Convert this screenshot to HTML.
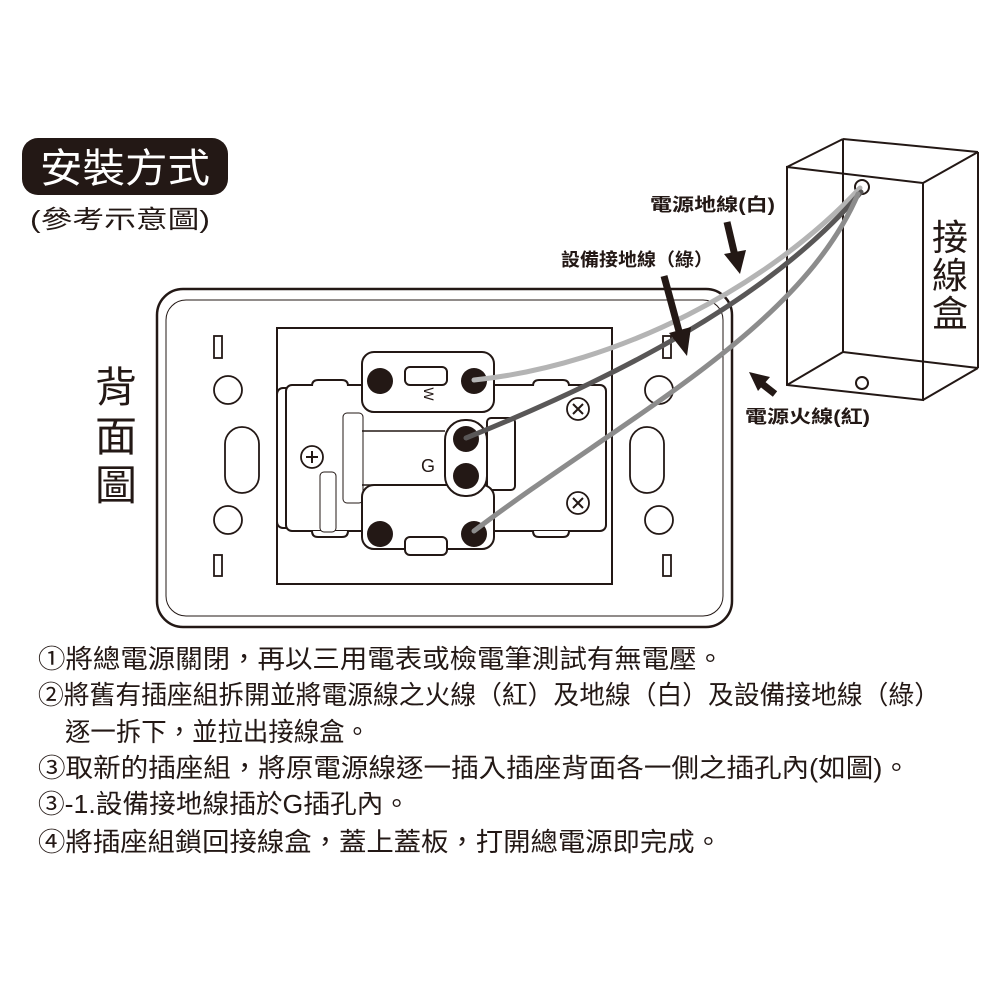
<!DOCTYPE html>
<html><head><meta charset="utf-8"><style>
html,body{margin:0;padding:0;background:#fff;}
svg{display:block}
text{font-family:"Liberation Sans","Noto Sans CJK TC",sans-serif;}
</style></head><body>
<svg width="1000" height="1000" viewBox="0 0 1000 1000" xmlns="http://www.w3.org/2000/svg">
<rect width="1000" height="1000" fill="#fff"/>
<rect x="22" y="138" width="206" height="57" rx="16" fill="#231815"/>
<text x="125" y="182" font-size="40" fill="#fff" text-anchor="middle" textLength="170" lengthAdjust="spacingAndGlyphs">安裝方式</text>
<text x="30" y="228" font-size="25" fill="#231815" textLength="180" lengthAdjust="spacingAndGlyphs">(參考示意圖)</text>

<g font-size="42" fill="#231815" text-anchor="middle">
<text x="116" y="402">背</text><text x="116" y="451">面</text><text x="116" y="500">圖</text>
</g>

<g fill="none" stroke="#231815" stroke-width="2">
<line x1="843" y1="139" x2="978" y2="152"/>
<line x1="843" y1="139" x2="843" y2="352"/>
<line x1="843" y1="352" x2="978" y2="368"/>
<line x1="787" y1="167" x2="843" y2="139"/>
<line x1="923" y1="183" x2="978" y2="152"/>
<line x1="978" y1="152" x2="978" y2="368"/>
<line x1="787" y1="385" x2="843" y2="352"/>
<line x1="923" y1="400" x2="978" y2="368"/>
<polygon points="787,167 923,183 923,400 787,385"/>
<circle cx="862" cy="187" r="7"/>
<circle cx="862" cy="383" r="6"/>
</g>
<g font-size="36" fill="#231815" text-anchor="middle">
<text x="950" y="250">接</text><text x="950" y="288">線</text><text x="950" y="326">盒</text>
</g>

<g fill="none" stroke="#231815">
<rect x="157" y="289" width="575" height="338" rx="26" stroke-width="2.5"/>
<rect x="166" y="300" width="557" height="316" rx="20" stroke-width="1"/>
<rect x="277" y="328" width="335" height="256" stroke-width="2"/>
<rect x="214" y="336" width="8" height="22" stroke-width="1.8"/>
<rect x="214" y="555" width="8" height="21" stroke-width="1.8"/>
<circle cx="228" cy="390" r="14" stroke-width="1.8"/>
<circle cx="228" cy="520" r="14" stroke-width="1.8"/>
<rect x="225" y="427" width="34" height="66" rx="17" stroke-width="1.8"/>
<rect x="663" y="336" width="8" height="22" stroke-width="1.8"/>
<rect x="663" y="555" width="8" height="21" stroke-width="1.8"/>
<circle cx="659" cy="390" r="14" stroke-width="1.8"/>
<circle cx="659" cy="520" r="14" stroke-width="1.8"/>
<rect x="630" y="427" width="34" height="66" rx="17" stroke-width="1.8"/>
</g>

<g fill="#fff" stroke="#231815" stroke-width="2">
<rect x="277" y="388" width="40" height="140" rx="6"/>
<rect x="286" y="385" width="320" height="146" rx="6"/>
<path d="M312 386 q0-6 6-6 h24 q6 0 6 6"/>
<path d="M533 386 q0-6 6-6 h24 q6 0 6 6"/>
<path d="M312 531 q0 6 6 6 h24 q6 0 6-6"/>
<path d="M533 531 q0 6 6 6 h24 q6 0 6-6"/>
<rect x="343" y="413" width="20" height="90" rx="4" stroke-width="1"/>
<rect x="320" y="472" width="16" height="60" rx="4" stroke-width="1"/>
<rect x="487" y="418" width="28" height="72" rx="4"/>
<rect x="362" y="352" width="132" height="60" rx="12"/>
<rect x="362" y="485" width="132" height="64" rx="12"/>
<rect x="445" y="420" width="42" height="76" rx="20"/>
<rect x="405" y="367" width="42" height="18" rx="5"/>
<rect x="405" y="537" width="42" height="18" rx="5"/>
</g>
<line x1="362" y1="431" x2="445" y2="431" stroke="#231815" stroke-width="1.5"/>
<line x1="362" y1="485" x2="445" y2="485" stroke="#231815" stroke-width="1.5"/>
<g fill="#231815">
<circle cx="380" cy="381" r="13"/><circle cx="474" cy="381" r="13"/>
<circle cx="466" cy="439" r="13"/><circle cx="466" cy="476" r="13"/>
<circle cx="380" cy="534" r="13"/><circle cx="474" cy="534" r="13"/>
</g>
<text x="428" y="472" font-size="18" fill="#231815" text-anchor="middle">G</text>
<text x="428" y="398" font-size="14" fill="#231815" text-anchor="middle" transform="rotate(90 428 394)">W</text>
<g fill="#fff" stroke="#231815" stroke-width="1.8">
<circle cx="312" cy="457" r="11"/><circle cx="578" cy="409" r="11"/><circle cx="578" cy="503" r="11"/>
</g>
<g stroke="#231815" stroke-width="2">
<path d="M306 457h12M312 451v12"/>
<path d="M573 404l10 10M583 404l-10 10"/>
<path d="M573 498l10 10M583 498l-10 10"/>
</g>

<g fill="none" stroke-linecap="round" stroke-width="5">
<path d="M474 380 C620 365 770 285 860 188" stroke="#b4b4b4"/>
<path d="M466 438 C610 380 770 300 861 192" stroke="#595757"/>
<path d="M474 531 C620 420 800 330 858 194" stroke="#8c8c8c"/>
</g>

<g fill="#231815" stroke="#231815">
<line x1="727" y1="222" x2="735" y2="256" stroke-width="7"/>
<polygon points="724,254 746,250 740,274" stroke="none"/>
<line x1="664" y1="276" x2="680" y2="335" stroke-width="7"/>
<polygon points="669,333 691,327 687,356" stroke="none"/>
<line x1="775" y1="394" x2="761" y2="383" stroke-width="7"/>
<polygon points="749,372 770,377 758,391" stroke="none"/>
</g>
<g font-size="18" font-weight="bold" fill="#231815">
<text x="650" y="211" textLength="125" lengthAdjust="spacingAndGlyphs">電源地線(白)</text>
<text x="561" y="266" textLength="152" lengthAdjust="spacingAndGlyphs">設備接地線（綠）</text>
<text x="745" y="423" textLength="125" lengthAdjust="spacingAndGlyphs">電源火線(紅)</text>
</g>

<g font-size="26" fill="#231815">
<text x="38" y="668" textLength="686" lengthAdjust="spacingAndGlyphs">①將總電源關閉，再以三用電表或檢電筆測試有無電壓。</text>
<text x="38" y="704" textLength="902" lengthAdjust="spacingAndGlyphs">②將舊有插座組拆開並將電源線之火線（紅）及地線（白）及設備接地線（綠）</text>
<text x="65" y="741" textLength="305" lengthAdjust="spacingAndGlyphs">逐一拆下，並拉出接線盒。</text>
<text x="38" y="777" textLength="872" lengthAdjust="spacingAndGlyphs">③取新的插座組，將原電源線逐一插入插座背面各一側之插孔內(如圖)。</text>
<text x="38" y="813" textLength="372" lengthAdjust="spacingAndGlyphs">③-1.設備接地線插於G插孔內。</text>
<text x="38" y="851" textLength="684" lengthAdjust="spacingAndGlyphs">④將插座組鎖回接線盒，蓋上蓋板，打開總電源即完成。</text>
</g>
</svg>
</body></html>
